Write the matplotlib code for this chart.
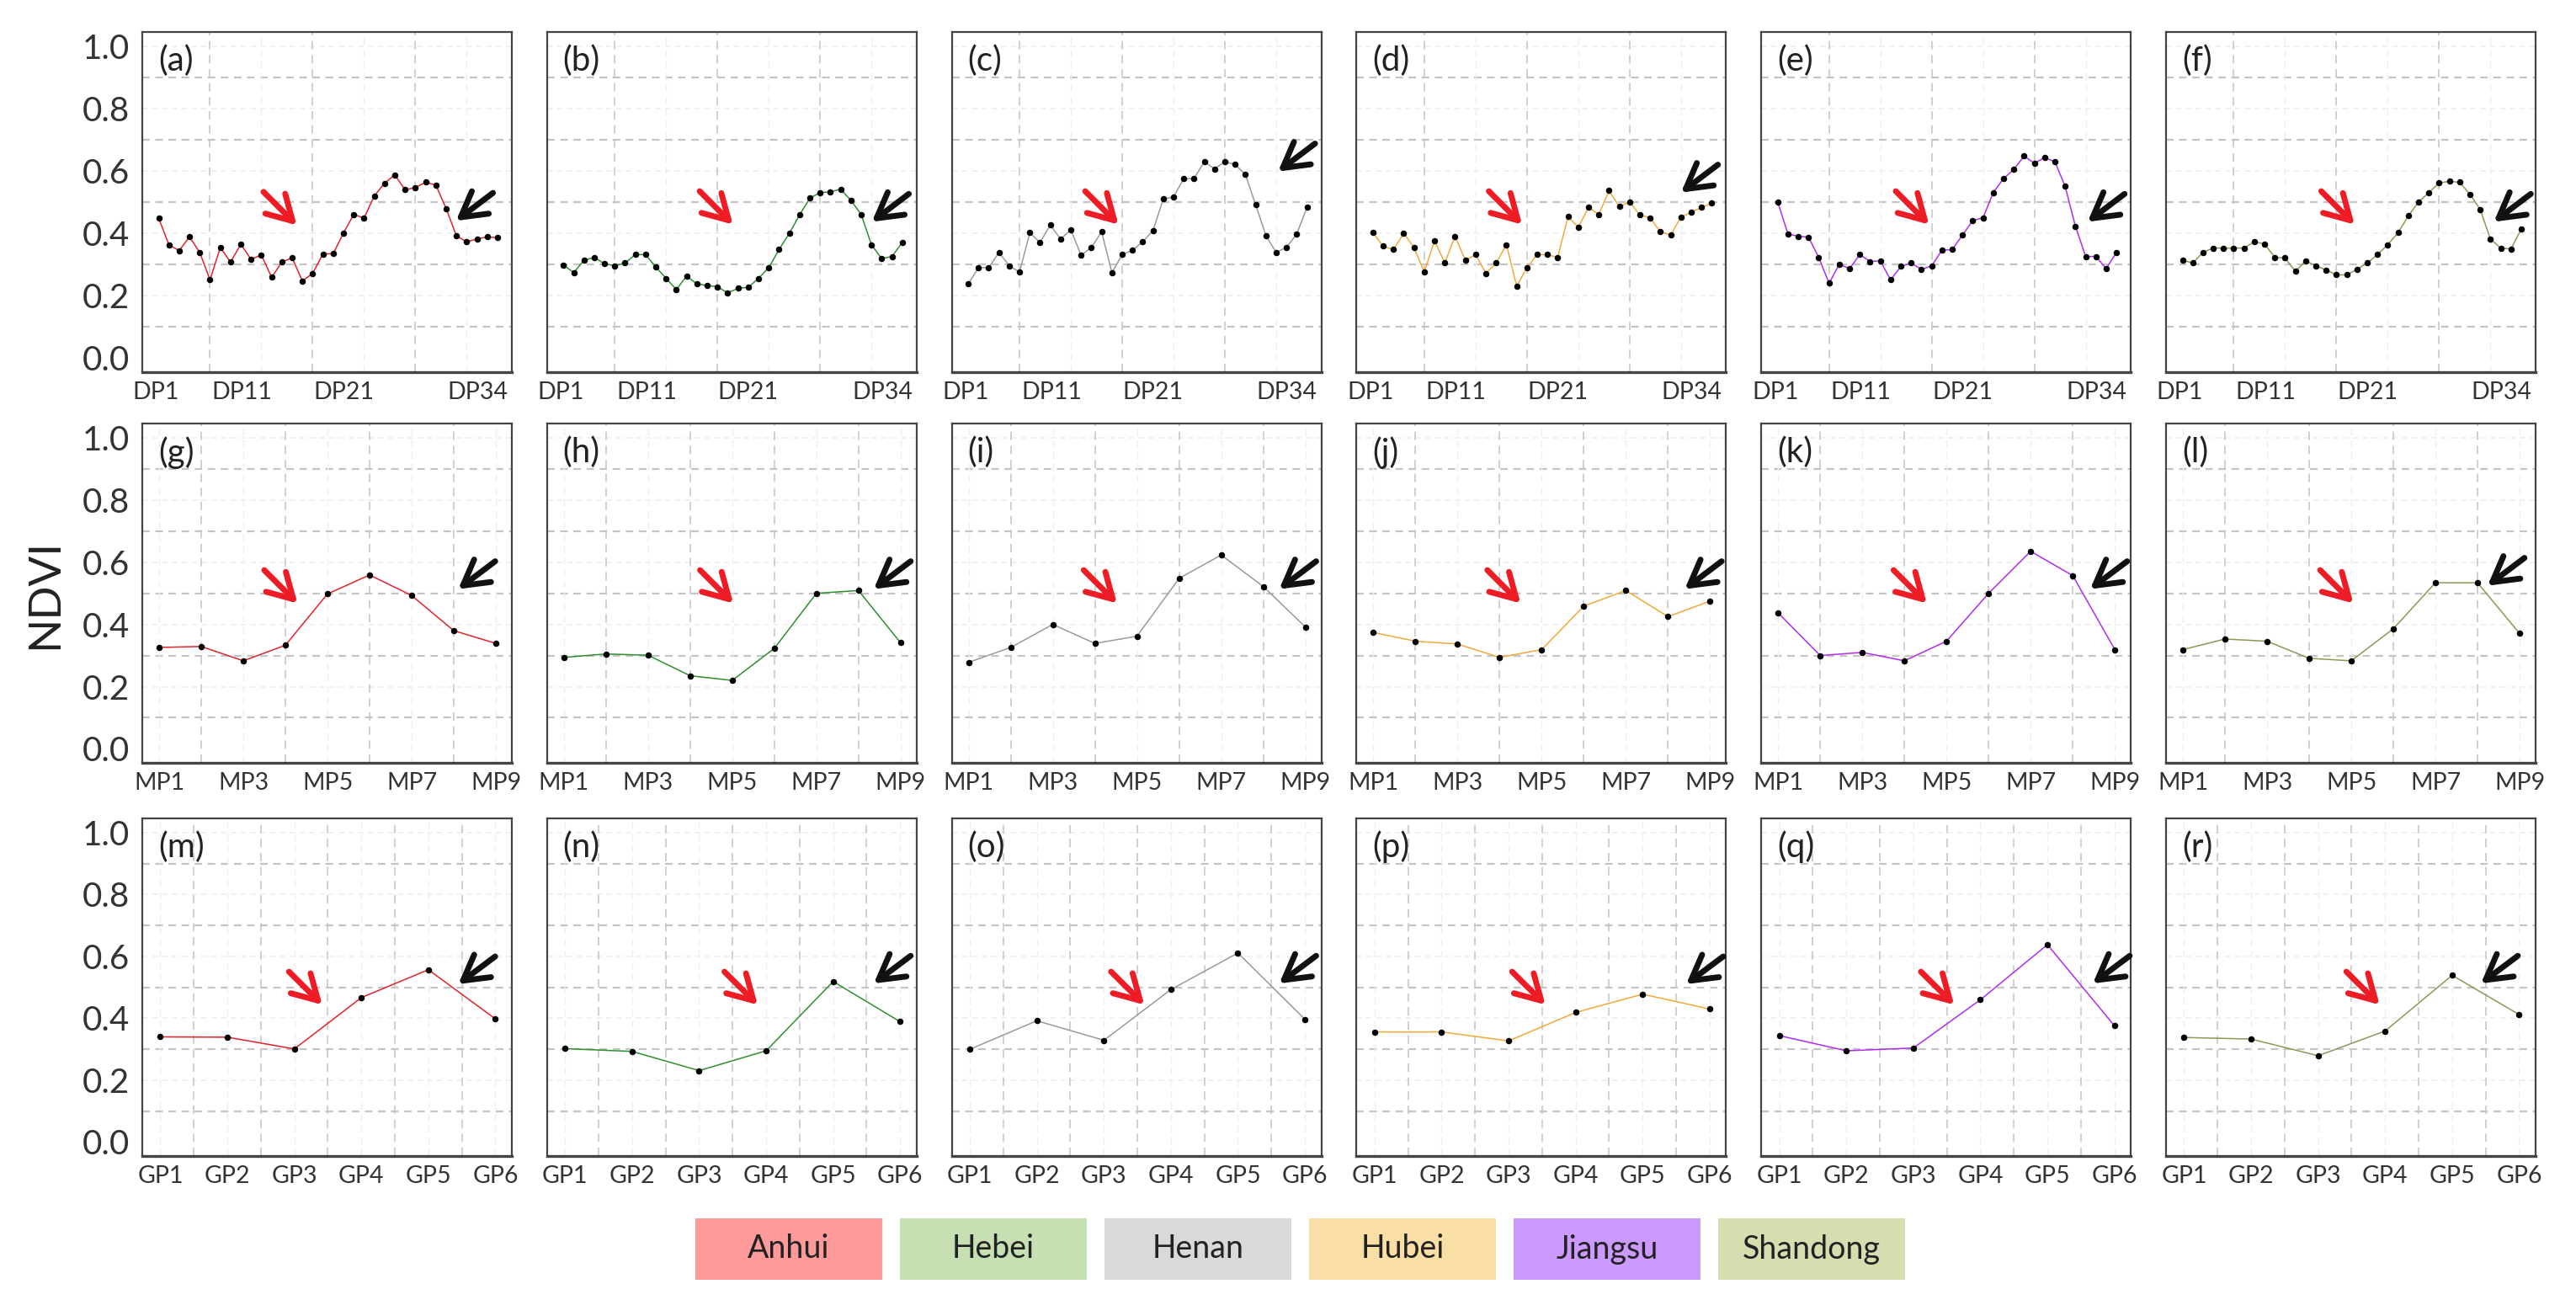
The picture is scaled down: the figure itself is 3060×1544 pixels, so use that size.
import numpy as np
import matplotlib.pyplot as plt

plt.rcParams['font.family'] = ['Lato', 'DejaVu Sans']

regions = ['Anhui', 'Hebei', 'Henan', 'Hubei', 'Jiangsu', 'Shandong']
line_colors = ['#e0242b', '#2f8f2f', '#9a9a9a', '#f2a93b', '#b02cf0', '#8a9a55']
legend_colors = ['#ff9a9a', '#c6e0b4', '#d9d9d9', '#f9dfa5', '#cc99ff', '#d8ddb0']
panel_tags = 'abcdefghijklmnopqr'

# NDVI per DP (34 periods)
dp_anhui = [0.449, 0.363, 0.345, 0.389, 0.339, 0.251, 0.355, 0.308, 0.365, 0.317,
            0.331, 0.259, 0.308, 0.322, 0.247, 0.272, 0.334, 0.335, 0.401, 0.461,
            0.449, 0.520, 0.561, 0.588, 0.540, 0.547, 0.564, 0.555, 0.480, 0.392,
            0.373, 0.382, 0.389, 0.386]
dp_hebei = [0.299, 0.274, 0.314, 0.323, 0.303, 0.296, 0.305, 0.332, 0.332, 0.292,
            0.256, 0.220, 0.263, 0.238, 0.233, 0.229, 0.209, 0.224, 0.227, 0.256,
            0.290, 0.348, 0.400, 0.459, 0.513, 0.531, 0.533, 0.542, 0.506, 0.461,
            0.364, 0.319, 0.326, 0.371]
dp_henan = [0.238, 0.290, 0.290, 0.339, 0.296, 0.276, 0.402, 0.371, 0.427, 0.382,
            0.411, 0.330, 0.355, 0.405, 0.274, 0.332, 0.346, 0.373, 0.409, 0.510,
            0.517, 0.576, 0.576, 0.630, 0.607, 0.630, 0.621, 0.589, 0.492, 0.393,
            0.339, 0.355, 0.398, 0.483]
dp_hubei = [0.402, 0.359, 0.348, 0.400, 0.355, 0.276, 0.377, 0.305, 0.391, 0.314,
            0.332, 0.272, 0.305, 0.364, 0.231, 0.290, 0.332, 0.332, 0.323, 0.454,
            0.420, 0.483, 0.461, 0.537, 0.486, 0.501, 0.459, 0.450, 0.405, 0.395,
            0.452, 0.468, 0.483, 0.497]
dp_jiangsu = [0.501, 0.398, 0.391, 0.388, 0.323, 0.240, 0.301, 0.287, 0.332, 0.310,
              0.312, 0.251, 0.294, 0.305, 0.285, 0.296, 0.346, 0.348, 0.395, 0.441,
              0.450, 0.531, 0.576, 0.605, 0.648, 0.625, 0.643, 0.630, 0.551, 0.423,
              0.326, 0.326, 0.287, 0.339]
dp_shandong = [0.314, 0.305, 0.339, 0.353, 0.353, 0.353, 0.353, 0.373, 0.366, 0.323,
               0.321, 0.278, 0.312, 0.296, 0.283, 0.267, 0.267, 0.285, 0.305, 0.332,
               0.364, 0.402, 0.456, 0.501, 0.531, 0.562, 0.567, 0.564, 0.526, 0.477,
               0.382, 0.353, 0.350, 0.414]

# NDVI per MP (9 periods)
mp_anhui = [0.326, 0.329, 0.283, 0.333, 0.498, 0.559, 0.493, 0.380, 0.339]
mp_hebei = [0.294, 0.305, 0.301, 0.235, 0.220, 0.323, 0.500, 0.509, 0.341]
mp_henan = [0.278, 0.326, 0.400, 0.339, 0.362, 0.548, 0.623, 0.522, 0.392]
mp_hubei = [0.374, 0.346, 0.337, 0.294, 0.319, 0.459, 0.509, 0.425, 0.475]
mp_jiangsu = [0.437, 0.300, 0.310, 0.283, 0.346, 0.500, 0.635, 0.557, 0.319]
mp_shandong = [0.319, 0.353, 0.346, 0.291, 0.283, 0.386, 0.534, 0.534, 0.371]

# NDVI per GP (6 periods)
gp_anhui = [0.340, 0.339, 0.301, 0.467, 0.557, 0.398]
gp_hebei = [0.302, 0.293, 0.231, 0.295, 0.519, 0.389]
gp_henan = [0.300, 0.392, 0.329, 0.493, 0.611, 0.397]
gp_hubei = [0.356, 0.356, 0.327, 0.419, 0.478, 0.430]
gp_jiangsu = [0.344, 0.295, 0.304, 0.460, 0.638, 0.376]
gp_shandong = [0.338, 0.333, 0.279, 0.359, 0.539, 0.412]

dp_tick_labels = ['DP1', 'DP11', 'DP21', 'DP34']
mp_tick_labels = ['MP1', 'MP3', 'MP5', 'MP7', 'MP9']
gp_tick_labels = ['GP1', 'GP2', 'GP3', 'GP4', 'GP5', 'GP6']
y_tick_labels = ['0.0', '0.2', '0.4', '0.6', '0.8', '1.0']

rows = [
    dict(series=[dp_anhui, dp_hebei, dp_henan, dp_hubei, dp_jiangsu, dp_shandong],
         xlim=(-0.6, 35.4), tick_pos=[0.75, 9.1, 19.0, 32.05], tick_labels=dp_tick_labels,
         vgrid=[6, 16, 26], vfaint=[11, 21, 31], top=38, bottom=442),
    dict(series=[mp_anhui, mp_hebei, mp_henan, mp_hubei, mp_jiangsu, mp_shandong],
         xlim=(0.6, 9.38), tick_pos=[1, 3, 5, 7, 9], tick_labels=mp_tick_labels,
         vgrid=[2, 4, 6, 8], vfaint=[1, 3, 5, 7, 9], top=503, bottom=906),
    dict(series=[gp_anhui, gp_hebei, gp_henan, gp_hubei, gp_jiangsu, gp_shandong],
         xlim=(0.73, 6.245), tick_pos=[1, 2, 3, 4, 5, 6], tick_labels=gp_tick_labels,
         vgrid=[1.5, 2.5, 3.5, 4.5, 5.5], vfaint=[1, 2, 3, 4, 5, 6], top=972, bottom=1373),
]

# arrow heads (axes fraction) per panel
red_heads = [(0.418, 0.432), (0.503, 0.434), (0.451, 0.434), (0.448, 0.434), (0.454, 0.434), (0.510, 0.434),
             (0.420, 0.470), (0.504, 0.470), (0.447, 0.470), (0.444, 0.470), (0.448, 0.470), (0.507, 0.470),
             (0.487, 0.448), (0.570, 0.448), (0.521, 0.448), (0.511, 0.448), (0.522, 0.448), (0.578, 0.448)]
black_heads = [(0.849, 0.445), (0.879, 0.442), (0.883, 0.590), (0.878, 0.528), (0.883, 0.442), (0.887, 0.442),
               (0.855, 0.512), (0.884, 0.512), (0.886, 0.512), (0.888, 0.512), (0.890, 0.512), (0.870, 0.522),
               (0.855, 0.509), (0.884, 0.511), (0.886, 0.511), (0.892, 0.509), (0.897, 0.511), (0.852, 0.511)]

W, H = 3060, 1544
fig = plt.figure(figsize=(W / 100, H / 100), dpi=100)

arrow_style = '->,head_length=0.7,head_width=0.4'
col_left, col_pitch, col_width = 169, 480.8, 439
k = 0
for r, row in enumerate(rows):
    for c in range(6):
        left = col_left + c * col_pitch
        ax = fig.add_axes([left / W, 1 - row['bottom'] / H, col_width / W,
                           (row['bottom'] - row['top']) / H])
        vals = row['series'][c]
        x = np.arange(1, len(vals) + 1)

        for yv in [0.1, 0.3, 0.5, 0.7, 0.9]:
            ax.axhline(yv, color='#c4c4c4', lw=1.6, ls=(0, (4, 3)), zorder=0)
        for yv in [0.2, 0.4, 0.6, 0.8, 1.0]:
            ax.axhline(yv, color='#efefef', lw=1.2, ls=(0, (4, 3)), zorder=0)
        for xv in row['vgrid']:
            ax.axvline(xv, color='#c8c8c8', lw=1.2, ls=(0, (6, 4)), zorder=0)
        for xv in row['vfaint']:
            ax.axvline(xv, color='#efefef', lw=1.0, ls=(0, (6, 4)), zorder=0)

        ax.plot(x, vals, color=line_colors[c], lw=1.1, marker='o', ms=4.4,
                mfc='black', mec='black', zorder=3)

        ax.set_xlim(*row['xlim'])
        ax.set_ylim(-0.045, 1.046)
        ax.set_xticks(row['tick_pos'])
        ax.set_xticklabels(row['tick_labels'])
        ax.set_yticks([0, 0.2, 0.4, 0.6, 0.8, 1.0])
        if c == 0:
            ax.set_yticklabels(y_tick_labels)
        else:
            ax.set_yticklabels([])
        ax.tick_params(length=0, colors='#333333')
        ax.tick_params(axis='x', labelsize=20.5, pad=8)
        ax.tick_params(axis='y', labelsize=29, pad=11)
        for side, sp in ax.spines.items():
            sp.set_color('#444444')
            sp.set_linewidth(2.4 if side == 'bottom' else 1.6)

        ax.text(0.043, 0.915, '(%s)' % panel_tags[k], transform=ax.transAxes,
                fontsize=29, ha='left', va='center', color='#222222')

        hx, hy = red_heads[k]
        ax.annotate('', xy=(hx, hy), xytext=(hx - 0.09, hy + 0.098), xycoords='axes fraction',
                    arrowprops=dict(arrowstyle=arrow_style, lw=5, color='#ee1c25',
                                    shrinkA=0, shrinkB=0, mutation_scale=30))
        hx, hy = black_heads[k]
        ax.annotate('', xy=(hx, hy), xytext=(hx + 0.1, hy + 0.082), xycoords='axes fraction',
                    arrowprops=dict(arrowstyle=arrow_style, lw=5, color='#111111',
                                    shrinkA=0, shrinkB=0, mutation_scale=30))
        k += 1

fig.text(54 / W, 1 - 705 / H, 'NDVI', rotation=90, fontsize=38, ha='center', va='center',
         color='#222222')

# legend boxes
lax = fig.add_axes([815.5 / W, 1 - 1520 / H, 1458 / W, 73 / H])
pos = np.arange(len(regions)) + 0.5
lax.bar(pos, 1, width=0.914, color=legend_colors, bottom=0)
for p, name in zip(pos, regions):
    lax.text(p, 0.5, name, ha='center', va='center', fontsize=27, color='#222222')
lax.set_xlim(0, len(regions))
lax.set_ylim(0, 1)
lax.axis('off')

fig.savefig('out.png', dpi=100)
